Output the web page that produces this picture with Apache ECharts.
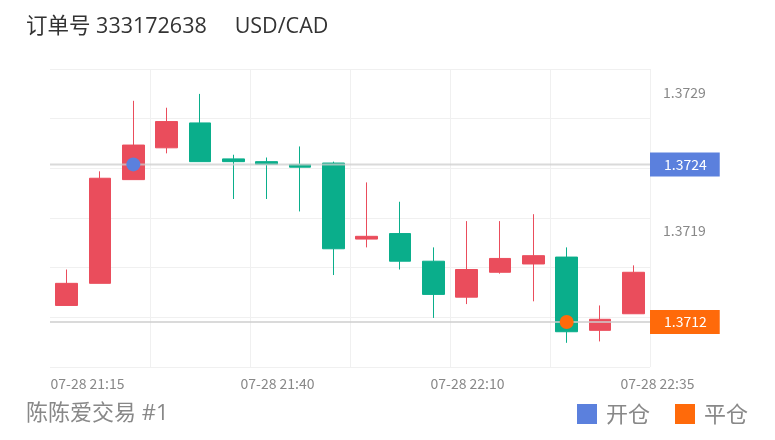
<!DOCTYPE html>
<html><head><meta charset="utf-8">
<script src="https://cdn.jsdelivr.net/npm/echarts@6/dist/echarts.min.js"></script>
<style>html,body{margin:0;padding:0;background:#fff}#c{width:775px;height:440px}</style>
</head><body><div id="c"></div>
<script>
// ---- data ----
const categories = ['21:15','21:20','21:25','21:30','21:35','21:40','21:45','21:50','21:55','22:00','22:05','22:10','22:15','22:20','22:25','22:30','22:35','22:40'];
const opens  = [1.37136,1.37152,1.37227,1.37250,1.37268,1.37242,1.37240,1.37238,1.37239,1.37184,1.37188,1.37168,1.37142,1.37160,1.37166,1.37171,1.37118,1.37130];
const closes = [1.37152,1.37228,1.37252,1.37269,1.37240,1.37240,1.37238,1.37236,1.37177,1.37186,1.37168,1.37144,1.37162,1.37170,1.37172,1.37117,1.37126,1.37160];
const lows   = [1.37136,1.37152,1.37227,1.37246,1.37240,1.37213,1.37213,1.37204,1.37158,1.37178,1.37162,1.37127,1.37137,1.37159,1.37139,1.37109,1.37110,1.37130];
const highs  = [1.37162,1.37233,1.37284,1.37279,1.37289,1.37245,1.37243,1.37251,1.37240,1.37225,1.37211,1.37178,1.37197,1.37197,1.37202,1.37178,1.37136,1.37165];
const timeLabels = ['07-28 21:15','07-28 21:40','07-28 22:10','07-28 22:35'];
const priceLabels = [1.3729, 1.3719];
const openTrade = { index: 2, price: 1.37238 };
const closeTrade = { index: 15, price: 1.37124 };
const yMin = 1.370915, yMax = 1.37307;
const titleText = '订单号 333172638     USD/CAD';
const footerText = '陈陈爱交易 #1';

// ---- styles ----
const RED = '#ea4d5c', GREEN = '#0aae8b', BLUE = '#5b80dd', ORANGE = '#ff6a0a';
const FONT = '"Noto Sans CJK SC","Noto Sans",sans-serif';
const TFONT = '"Open Sans","Noto Sans CJK SC",sans-serif';
const PLOT = { left: 50, right: 125, top: 69, bottom: 73 };

const candleData = categories.map((c, i) => [opens[i], closes[i], lows[i], highs[i]]);

function priceLine(name, price, color) {
  return {
    type: 'line', name: name, xAxisIndex: 3, yAxisIndex: 3, z: 3, silent: true,
    showSymbol: false, symbol: 'none',
    lineStyle: { color: 'rgba(205,205,205,0.75)', width: 2 },
    data: [[0, price], [1, price]],
    endLabel: {
      show: true, distance: 0, color: '#fff', fontSize: 14, fontFamily: FONT,
      backgroundColor: color, padding: [5, 13, 5, 14],
      formatter: p => Number(p.value[1]).toFixed(4)
    }
  };
}

const chart = echarts.init(document.getElementById('c'));
chart.setOption({
  animation: false,
  backgroundColor: '#fff',
  textStyle: { fontFamily: FONT },
  title: [
    { text: titleText, left: 26, top: 16, padding: 0,
      textStyle: { fontSize: 21.5, fontWeight: 'normal', color: '#333', fontFamily: TFONT } },
    { text: footerText, left: 26, top: 403, padding: 0,
      textStyle: { fontSize: 22, fontWeight: 'normal', color: '#888', fontFamily: TFONT } }
  ],
  legend: {
    data: [{ name: '开仓', icon: 'rect' }, { name: '平仓', icon: 'rect' }],
    right: 27, top: 403, padding: 0,
    itemWidth: 20, itemHeight: 20, itemGap: 25,
    textStyle: { fontSize: 22, color: '#888', fontFamily: FONT, padding: [0, 0, 0, 4] }
  },
  grid: [
    Object.assign({}, PLOT),
    { left: 87.5, right: 117.5, top: 69, bottom: 73 },
    Object.assign({}, PLOT),
    Object.assign({}, PLOT)
  ],
  xAxis: [
    { type: 'category', gridIndex: 0, data: categories, boundaryGap: true,
      axisLine: { show: false }, axisTick: { show: false }, axisLabel: { show: false },
      splitLine: { show: true, interval: (i) => i > 0 && i % 3 === 0, lineStyle: { color: '#f0f0f0', width: 1 } } },
    { type: 'category', gridIndex: 1, data: timeLabels, boundaryGap: false,
      axisLine: { show: false }, axisTick: { show: false }, splitLine: { show: false },
      axisLabel: { interval: 0, color: '#888', fontSize: 14, margin: 10, fontFamily: FONT } },
    { type: 'value', gridIndex: 2, min: 0, max: 1, show: false },
    { type: 'value', gridIndex: 3, min: 0, max: 1, show: false }
  ],
  yAxis: [
    { type: 'value', gridIndex: 0, position: 'right', min: yMin, max: yMax, scale: true,
      axisLine: { show: false }, axisTick: { show: false }, splitLine: { show: false },
      axisLabel: { customValues: priceLabels, formatter: v => Number(v).toFixed(4),
        color: '#888', fontSize: 14, margin: 13, fontFamily: FONT } },
    { type: 'value', gridIndex: 1, min: 0, max: 1, show: false },
    { type: 'value', gridIndex: 2, min: 0, max: 6, interval: 1, position: 'left',
      axisLine: { show: false }, axisTick: { show: false }, axisLabel: { show: false },
      splitLine: { show: true, lineStyle: { color: '#f0f0f0', width: 1 } } },
    { type: 'value', gridIndex: 3, min: yMin, max: yMax, scale: true, show: false }
  ],
  series: [
    { type: 'candlestick', name: 'K', xAxisIndex: 0, yAxisIndex: 0, data: candleData,
      barWidth: 22, z: 2,
      itemStyle: { color: RED, color0: GREEN, borderColor: RED, borderColor0: GREEN, borderWidth: 1 } },
    priceLine('openLine', openTrade.price, BLUE),
    priceLine('closeLine', closeTrade.price, ORANGE),
    { type: 'scatter', name: '开仓', xAxisIndex: 0, yAxisIndex: 0, symbolSize: 14, z: 5,
      itemStyle: { color: BLUE, opacity: 1 }, data: [[openTrade.index, openTrade.price]] },
    { type: 'scatter', name: '平仓', xAxisIndex: 0, yAxisIndex: 0, symbolSize: 14, z: 5,
      itemStyle: { color: ORANGE, opacity: 1 }, data: [[closeTrade.index, closeTrade.price]] }
  ]
});
</script>
</body></html>
